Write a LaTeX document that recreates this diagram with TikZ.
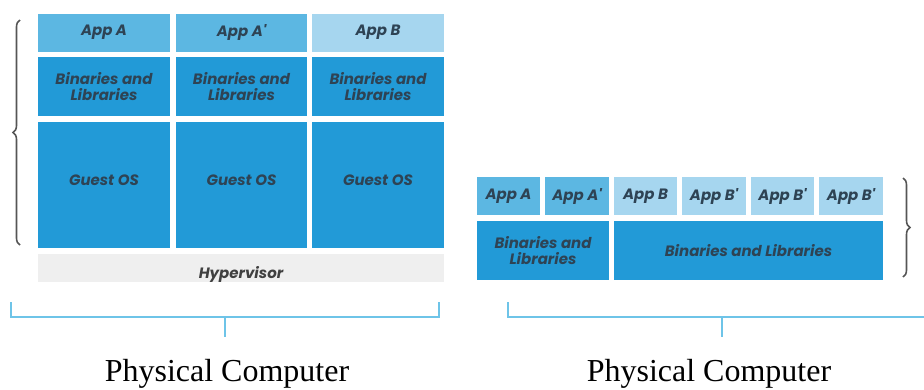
\documentclass[tikz,border=0pt]{standalone}
\usepackage{fontspec}
\setmainfont{Liberation Serif}
\newfontfamily\cellfont{Poppins}
\usetikzlibrary{positioning}
\usetikzlibrary{decorations.pathreplacing}
\definecolor{appBlue}{HTML}{5CB7E2}
\definecolor{appPale}{HTML}{A6D6EF}
\definecolor{stackBlue}{HTML}{229AD7}
\definecolor{hyperGray}{HTML}{EFEFEF}
\definecolor{cellText}{HTML}{2E4354}
\definecolor{hyperText}{HTML}{404040}
\definecolor{bracketBlue}{HTML}{6EC4E8}
\definecolor{braceGray}{HTML}{555555}
\tikzset{
    cell/.style={inner sep=0pt, align=center, text=cellText,
        font=\cellfont\bfseries\itshape\fontsize{15}{16.5}\selectfont},
    appCell/.style={cell, fill=appBlue, minimum height=38pt},
    appCellPale/.style={cell, fill=appPale, minimum height=38pt},
    libCell/.style={cell, fill=stackBlue, minimum height=59pt},
    osCell/.style={cell, fill=stackBlue, text height=63pt, text depth=63pt},
    hyperCell/.style={cell, fill=hyperGray, text=hyperText, text height=24pt, text depth=4pt},
    curly/.style={braceGray, line width=1.6pt, decorate, decoration={brace, amplitude=7pt}},
    bracket/.style={bracketBlue, line width=2.4pt},
    pcLabel/.style={font=\fontsize{32}{34}\selectfont, inner sep=0pt}
}

\begin{document}
\begin{tikzpicture}[x=1pt, y=-1pt]
    \useasboundingbox (0,0) rectangle (924,389);
    % virtual machines
    \node[appCell, minimum width=132pt] (vmAppA) at (104,32.5) {App A};
    \node[appCell, minimum width=131pt] (vmAppA2) at (241.5,32.5) {App A'};
    \node[appCellPale, minimum width=132pt] (vmAppB) at (378,32.5) {App B};
    \node[libCell, minimum width=132pt] (vmLibA) at (104,86.5) {Binaries and\\Libraries};
    \node[libCell, minimum width=131pt] (vmLibA2) at (241.5,86.5) {Binaries and\\Libraries};
    \node[libCell, minimum width=132pt] (vmLibB) at (378,86.5) {Binaries and\\Libraries};
    \node[osCell, minimum width=132pt] (vmOsA) at (104,185) {Guest OS};
    \node[osCell, minimum width=131pt] (vmOsA2) at (241.5,185) {Guest OS};
    \node[osCell, minimum width=132pt] (vmOsB) at (378,185) {Guest OS};
    \node[hyperCell, minimum width=406pt] (hyper) at (241,268) {Hypervisor};
    % containers
    \node[appCell, minimum width=63pt] (ctAppA) at (508.5,196) {App A};
    \node[appCell, minimum width=64pt] (ctAppA2) at (577,196) {App A'};
    \node[appCellPale, minimum width=63pt] (ctAppB) at (645.5,196) {App B};
    \node[appCellPale, minimum width=64pt] (ctAppB2) at (714,196) {App B'};
    \node[appCellPale, minimum width=63pt] (ctAppB3) at (782.5,196) {App B'};
    \node[appCellPale, minimum width=64pt] (ctAppB4) at (851,196) {App B'};
    \node[libCell, minimum width=132pt] (ctLibA) at (543,250.5) {Binaries and\\Libraries};
    \node[libCell, minimum width=269pt] (ctLibB) at (748.5,250.5) {Binaries and Libraries};
    % braces
    \draw[curly] (20,245) -- (20,20);
    \draw[curly] (903,178) -- (903,277);
    % physical computers
    \coordinate (lEndA) at (11,302);
    \coordinate (lEndB) at (439,302);
    \coordinate (lMid) at (225,317);
    \coordinate (lStem) at (225,337);
    \draw[bracket] (lEndA) -- (lEndA |- lMid) -- (lEndB |- lMid) -- (lEndB);
    \draw[bracket] (lMid) -- (lStem);
    \node[pcLabel] (pcLeft) at (227,374) {Physical Computer};
    \coordinate (rEndA) at (508,302);
    \coordinate (rEndB) at (926,317);
    \coordinate (rMid) at (722,317);
    \coordinate (rStem) at (722,337);
    \draw[bracket] (rEndA) |- (rEndB);
    \draw[bracket] (rMid) -- (rStem);
    \node[pcLabel] (pcRight) at (709,374) {Physical Computer};
\end{tikzpicture}
\end{document}
